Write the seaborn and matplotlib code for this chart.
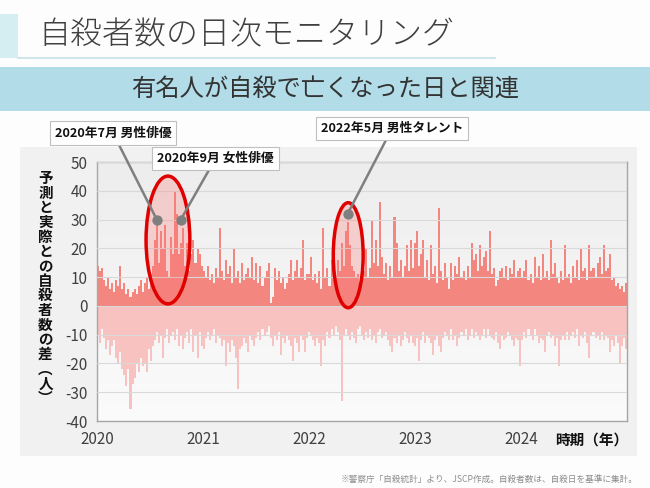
import numpy as np
import pandas as pd
import matplotlib
matplotlib.use("Agg")
import matplotlib.pyplot as plt
import matplotlib.dates as mdates
from matplotlib.patches import Ellipse, Rectangle
from matplotlib.lines import Line2D
from matplotlib.colors import LinearSegmentedColormap
import seaborn as sns

# ---------------- data (weekly peaks) ----------------
pos_2020 = [14, 12, 13, 9, 7, 10, 6, 8, 5, 9, 7, 14, 6,
            8, 4, 6, 3, 5, 6, 4, 7, 9, 5, 8, 10, 6, 11,
            14, 23, 29, 15, 26, 20, 28, 12, 10, 24, 18, 40, 32, 18, 22, 27, 14, 22, 12, 18, 23, 15, 20, 18, 14]
pos_2021 = [12, 10, 14, 9, 11, 8, 13, 10, 27, 12, 9, 16, 11, 14, 8, 20, 10, 12, 8, 15, 9, 11, 13, 10, 17, 9,
            15, 8, 14, 7, 10, 12, 15, 1, 3, 13, 9, 12, 8, 10, 6, 8, 11, 16, 9, 12, 16, 10, 13, 23, 9, 11]
pos_2022 = [11, 17, 9, 11, 8, 12, 6, 27, 10, 13, 7, 16, 9, 10, 16, 12, 22, 14, 26, 29, 21, 14, 12, 10, 11, 8,
            9, 12, 20, 10, 13, 30, 15, 23, 14, 36, 17, 11, 15, 9, 14, 10, 31, 22, 12, 16, 10, 14, 21, 12, 23, 13]
pos_2023 = [22, 26, 14, 18, 23, 10, 16, 9, 21, 11, 14, 8, 34, 12, 9, 15, 10, 6, 15, 9, 14, 11, 17, 10, 12, 9,
            14, 10, 22, 16, 18, 12, 21, 14, 17, 19, 12, 26, 11, 13, 7, 9, 12, 13, 10, 14, 9, 13, 11, 16, 10, 12]
pos_2024 = [13, 10, 12, 16, 9, 11, 8, 17, 10, 14, 9, 18, 10, 12, 9, 23, 11, 15, 10, 8, 12, 9, 21, 10, 11, 8,
            14, 10, 16, 9, 20, 12, 13, 9, 21, 12, 13, 10, 15, 17, 11, 21, 12, 13, 18, 9, 10, 7, 8, 6, 7, 5, 8]

neg_2020 = [-10, -13, -8, -11, -15, -12, -17, -14, -12, -18, -20, -16, -22,
            -24, -28, -22, -36, -27, -25, -20, -23, -18, -21, -20, -23, -15, -19,
            -14, -12, -9, -13, -10, -18, -11, -8, -13, -10, -9, -12, -8, -14, -10, -15, -11, -9, -13, -8, -16, -10, -18, -9, -14]
neg_2021 = [-15, -11, -9, -12, -10, -8, -13, -10, -11, -14, -12, -21, -13, -16, -12, -14, -18, -29, -15, -14, -11, -13,
            -16, -10, -12, -14, -11, -9, -12, -8, -10, -9, -7, -11, -14, -10, -12, -9, -17, -11, -13, -10, -12, -14,
            -19, -11, -13, -16, -10, -12, -16, -11]
neg_2022 = [-9, -10, -12, -14, -11, -13, -21, -12, -14, -9, -11, -8, -10, -7, -9, -12, -33, -10, -8, -10, -12, -9,
            -11, -13, -8, -7, -10, -12, -9, -11, -8, -12, -10, -13, -9, -8, -11, -10, -9, -12, -14, -16, -11, -13,
            -10, -14, -12, -9, -11, -13, -10, -13]
neg_2023 = [-14, -11, -19, -12, -9, -13, -10, -11, -13, -17, -12, -10, -14, -16, -11, -9, -10, -12, -8, -12, -10, -14,
            -11, -9, -10, -8, -12, -10, -8, -11, -9, -10, -12, -10, -8, -11, -8, -10, -11, -12, -9, -13, -15, -10,
            -12, -11, -9, -10, -12, -14, -11, -12]
neg_2024 = [-21, -12, -9, -11, -8, -10, -12, -8, -10, -13, -11, -12, -16, -10, -9, -11, -10, -14, -11, -21, -12, -10,
            -12, -9, -12, -10, -9, -11, -8, -14, -10, -11, -9, -13, -18, -10, -9, -11, -10, -12, -9, -12, -10, -11,
            -16, -12, -14, -10, -13, -20, -14, -11, -15]

year_labels = ["2020", "2021", "2022", "2023", "2024"]
y_ticks = [-40, -30, -20, -10, 0, 10, 20, 30, 40, 50]

events = ["2020年7月 男性俳優", "2020年9月 女性俳優", "2022年5月 男性タレント"]
event_dates = ["2020-07-25", "2020-10-16", "2022-05-14"]
event_vals = [30, 30, 32]

title = "自殺者数の日次モニタリング"
subtitle = "有名人が自殺で亡くなった日と関連"
ylabel_chars = list("予測と実際との自殺者数の差") + ["︵", "人", "︶"]
xlabel = "時期（年）"
footnote = "※警察庁「自殺統計」より、JSCP作成。自殺者数は、自殺日を基準に集計。"

pos = pos_2020 + pos_2021 + pos_2022 + pos_2023 + pos_2024
neg = neg_2020 + neg_2021 + neg_2022 + neg_2023 + neg_2024
weeks = pd.date_range("2020-01-01", periods=len(pos), freq="7D")
xnum = mdates.date2num(weeks) + 3.5
df = pd.DataFrame({"x": xnum, "pos": pos, "neg": neg})

# ---------------- style ----------------
sns.set_theme(style="white")
plt.rcParams["font.family"] = ["Noto Sans CJK JP", "DejaVu Sans"]

W, H = 650, 488
fig = plt.figure(figsize=(6.5, 4.88), dpi=100)
fig.patch.set_facecolor("#FDFDFD")

def fx(px):
    return px / W

def fy(py):
    return 1 - py / H

# header decorations
fig.add_artist(Rectangle((0, fy(58)), fx(18), (58 - 14) / H, transform=fig.transFigure,
                         color="#D5EEF2", lw=0, zorder=0))
fig.add_artist(Line2D([fx(18), fx(495)], [fy(58), fy(58)], transform=fig.transFigure,
                      color="#CFE5EA", lw=1.5))
fig.text(fx(38), fy(35), title, fontsize=23, color="#404040", va="center", ha="left",
         fontweight="light")
fig.add_artist(Rectangle((0, fy(111)), 1, (111 - 67) / H, transform=fig.transFigure,
                         color="#B1DCE8", lw=0, zorder=0))
fig.text(0.5, fy(89), subtitle, fontsize=17.5, color="#333333", va="center", ha="center")

# chart panel
fig.add_artist(Rectangle((fx(20), fy(456)), (637 - 20) / W, (456 - 147) / H,
                         transform=fig.transFigure, color="#F1F1F1", lw=0, zorder=0))

ax = fig.add_axes([fx(97), fy(421), (627 - 97) / W, (421 - 162) / H])
x0 = mdates.date2num(pd.Timestamp("2020-01-01"))
x1 = mdates.date2num(pd.Timestamp("2025-01-01"))
grad = LinearSegmentedColormap.from_list("g", ["#EDEDED", "#FBFBFB"])
ax.imshow(np.linspace(0, 1, 256).reshape(-1, 1), cmap=grad, extent=[x0, x1, -40, 50],
          aspect="auto", zorder=0)

sns.barplot(data=df, x="x", y="pos", native_scale=True, orient="x", color="#F3867F",
            saturation=1, width=1.0, errorbar=None, linewidth=0, ax=ax, zorder=2)
sns.barplot(data=df, x="x", y="neg", native_scale=True, orient="x", color="#F8C2C0",
            saturation=1, width=1.0, errorbar=None, linewidth=0, ax=ax, zorder=2)

ax.set_xlim(x0, x1)
ax.set_ylim(-40, 50)
ax.set_yticks(y_ticks)
ax.set_yticklabels([str(v) for v in y_ticks], fontsize=11, color="#404040")
ax.set_xticks([mdates.date2num(pd.Timestamp(f"{y}-01-01")) for y in year_labels])
ax.set_xticklabels(year_labels, fontsize=11, color="#404040")
ax.tick_params(axis="both", length=0, pad=7)
ax.grid(axis="y", color="#D9D9D9", lw=0.8, zorder=1)
ax.set_axisbelow(False)
for sp in ax.spines.values():
    sp.set_color("#A6A6A6")
    sp.set_linewidth(1.0)
    sp.set_visible(True)
ax.set_xlabel("")
ax.set_ylabel("")

# ellipses
e1 = Ellipse((x0 + 244.6, 22.9), 151, 44.4, facecolor=(1, 0.45, 0.45, 0.28),
             edgecolor="#E00000", lw=2.5, zorder=4)
e2 = Ellipse((x0 + 866, 17.6), 103, 36.5, facecolor=(1, 0.45, 0.45, 0.28),
             edgecolor="#E00000", lw=2.5, zorder=4)
ax.add_patch(e1)
ax.add_patch(e2)

# annotations
ev_x = [mdates.date2num(pd.Timestamp(d)) for d in event_dates]
box_pos = [(113, H - 133), (215.5, H - 158.5), (392, H - 128.5)]
for txt, xv, yv, bp in zip(events, ev_x, event_vals, box_pos):
    ax.annotate(txt, xy=(xv, yv), xycoords="data", xytext=bp, textcoords="figure pixels",
                ha="center", va="center", fontsize=9.2, fontweight="bold", color="#111111",
                bbox=dict(boxstyle="square,pad=0.4", fc="white", ec="#BFBFBF", lw=0.8),
                arrowprops=dict(arrowstyle="-", color="#7F7F7F", lw=1.8, shrinkA=0, shrinkB=0),
                annotation_clip=False, zorder=6)
ax.scatter(ev_x, event_vals, s=55, color="#7F7F7F", zorder=7, linewidths=0)

# y label (vertical stacked characters, one text)
fig.text(fx(45.5), fy(288), "\n".join(ylabel_chars), fontsize=10.5, fontweight="bold",
         color="#111111", ha="center", va="center", multialignment="center", linespacing=0.9)

fig.text(fx(628), fy(440), xlabel, fontsize=10.5, fontweight="bold", color="#111111",
         ha="right", va="center")
fig.text(fx(638), fy(479), footnote, fontsize=6.2, color="#8C8C8C", ha="right", va="center")

fig.savefig("out.png", dpi=100, facecolor=fig.get_facecolor())
